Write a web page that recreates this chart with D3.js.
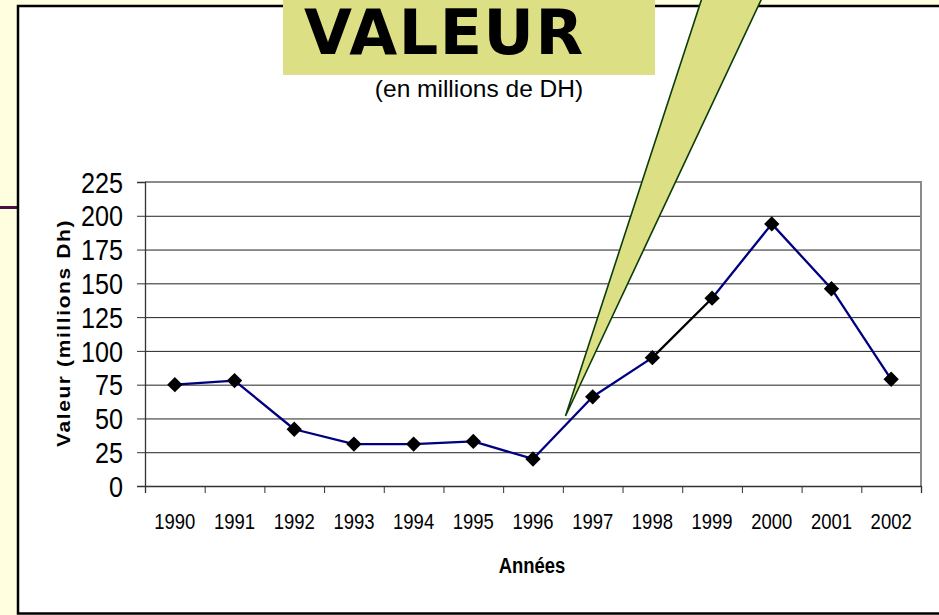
<!DOCTYPE html>
<html>
<head>
<meta charset="utf-8">
<script src="https://cdn.jsdelivr.net/npm/d3@7"></script>
<style>
html, body { margin: 0; padding: 0; background: #ffffe0; }
svg { display: block; }
</style>
</head>
<body>
<svg id="chart" width="939" height="615"></svg>
<script>
// data
var years = ["1990", "1991", "1992", "1993", "1994", "1995", "1996",
             "1997", "1998", "1999", "2000", "2001", "2002"];
var values = [75, 78, 42, 31, 31, 33, 20, 66, 95, 139, 194, 146, 79];
var yTicks = [0, 25, 50, 75, 100, 125, 150, 175, 200, 225];

var titleText = "VALEUR";
var subtitleText = "(en millions de DH)";
var yTitle = "Valeur (millions Dh)";
var xTitle = "Années";

var W = 939, H = 615;
var plot = {left: 145, right: 921, top: 182, bottom: 486};
var squeeze = 0.84;   // chart text looks squashed sideways
var font = "'Liberation Sans', Arial, sans-serif";

var svg = d3.select("#chart");

// slide background
svg.append("rect").attr("width", W).attr("height", H).attr("fill", "#ffffe0");
svg.append("line")
   .attr("x1", 0).attr("x2", 18).attr("y1", 207.5).attr("y2", 207.5)
   .attr("stroke", "#4a1040").attr("stroke-width", 3);

// white frame of the chart object
svg.append("rect")
   .attr("x", 18).attr("y", 6)
   .attr("width", W + 20).attr("height", 607.5)
   .attr("fill", "#fff").attr("stroke", "#000").attr("stroke-width", 2.5);

var x = d3.scaleBand().domain(years).range([plot.left, plot.right]).padding(0);
var xEdges = d3.scaleLinear().domain([0, years.length]).range([plot.left, plot.right]);
var y = d3.scaleLinear().domain([0, 225]).range([plot.bottom, plot.top]);

// grid lines
var grid = svg.append("g")
   .attr("transform", "translate(" + plot.left + ",0)")
   .call(d3.axisLeft(y).tickValues(yTicks).tickSize(-(plot.right - plot.left)).tickFormat(""));
grid.select(".domain").remove();
grid.selectAll(".tick line").attr("stroke", "#222").attr("stroke-width", 1);

// plot area border (top/right gray)
svg.append("path")
   .attr("d", "M" + plot.left + "," + plot.top + "H" + plot.right + "V" + plot.bottom)
   .attr("fill", "none").attr("stroke", "#8a8a8a").attr("stroke-width", 2);

// y axis
var yAxis = svg.append("g")
   .attr("transform", "translate(" + plot.left + ",0)")
   .call(d3.axisLeft(y).tickValues(yTicks).tickSize(8).tickPadding(14));
yAxis.select(".domain").attr("stroke", "#333").attr("stroke-width", 1.3);
yAxis.selectAll(".tick line").attr("stroke", "#333");
yAxis.selectAll(".tick text")
   .attr("font-family", font).attr("font-size", 30).attr("fill", "#000")
   .attr("x", -22 / squeeze).attr("dy", "0.34em")
   .attr("transform", "scale(" + squeeze + ",1)");

// x axis: ticks between categories
var xTickAxis = svg.append("g")
   .attr("transform", "translate(0," + plot.bottom + ")")
   .call(d3.axisBottom(xEdges).tickValues(d3.range(years.length + 1)).tickSize(7).tickFormat(""));
xTickAxis.select(".domain").attr("stroke", "#333").attr("stroke-width", 1.3);
xTickAxis.selectAll(".tick line").attr("stroke", "#333");

var xLabelAxis = svg.append("g")
   .attr("transform", "translate(0," + plot.bottom + ")")
   .call(d3.axisBottom(x).tickSize(0).tickPadding(27));
xLabelAxis.select(".domain").remove();
xLabelAxis.selectAll(".tick text")
   .attr("font-family", font).attr("font-size", 22).attr("fill", "#000")
   .attr("transform", "scale(" + squeeze + ",1)");

// series line, one segment at a time (1998-1999 is black)
var pts = years.map(function(d, i) {
    return {year: d, value: values[i], cx: x(d) + x.bandwidth() / 2, cy: y(values[i])};
});
var segs = d3.pairs(pts);
svg.append("g").selectAll("line")
   .data(segs)
   .enter()
   .append("line")
   .attr("x1", function(d) { return d[0].cx; })
   .attr("y1", function(d) { return d[0].cy; })
   .attr("x2", function(d) { return d[1].cx; })
   .attr("y2", function(d) { return d[1].cy; })
   .attr("stroke", function(d) { return d[0].year == "1998" ? "#000" : "#000080"; })
   .attr("stroke-width", 2.3)
   .attr("stroke-linecap", "round");

svg.append("g").selectAll("path")
   .data(pts)
   .enter()
   .append("path")
   .attr("d", d3.symbol().type(d3.symbolDiamond2).size(150))
   .attr("transform", function(d) { return "translate(" + d.cx + "," + d.cy + ")"; })
   .attr("fill", "#000");

// axis titles
svg.append("text")
   .attr("transform", "translate(70,333) rotate(-90) scale(1,0.9)")
   .attr("text-anchor", "middle")
   .attr("font-family", font).attr("font-weight", "bold").attr("font-size", 21)
   .attr("letter-spacing", 1.6)
   .text(yTitle);

svg.append("text")
   .attr("transform", "translate(532,573) scale(" + squeeze + ",1)")
   .attr("text-anchor", "middle")
   .attr("font-family", font).attr("font-weight", "bold").attr("font-size", 22)
   .text(xTitle);

// slide title box
svg.append("rect")
   .attr("x", 283).attr("y", 0).attr("width", 372).attr("height", 75)
   .attr("fill", "#dcdf84");
svg.append("text")
   .attr("x", 304).attr("y", 54)
   .attr("font-family", "'DejaVu Sans', Verdana, sans-serif")
   .attr("font-weight", "bold").attr("font-size", 62)
   .attr("letter-spacing", 1.5)
   .text(titleText);

svg.append("text")
   .attr("x", 479).attr("y", 97)
   .attr("text-anchor", "middle")
   .attr("font-family", font).attr("font-size", 24.5)
   .text(subtitleText);

// callout wedge
svg.append("path")
   .attr("d", "M702,-2L762,-2L565.5,416Z")
   .attr("fill", "#dcdf84")
   .attr("stroke", "#0b3d0b").attr("stroke-width", 1.6)
   .attr("stroke-linejoin", "miter");
</script>
</body>
</html>
